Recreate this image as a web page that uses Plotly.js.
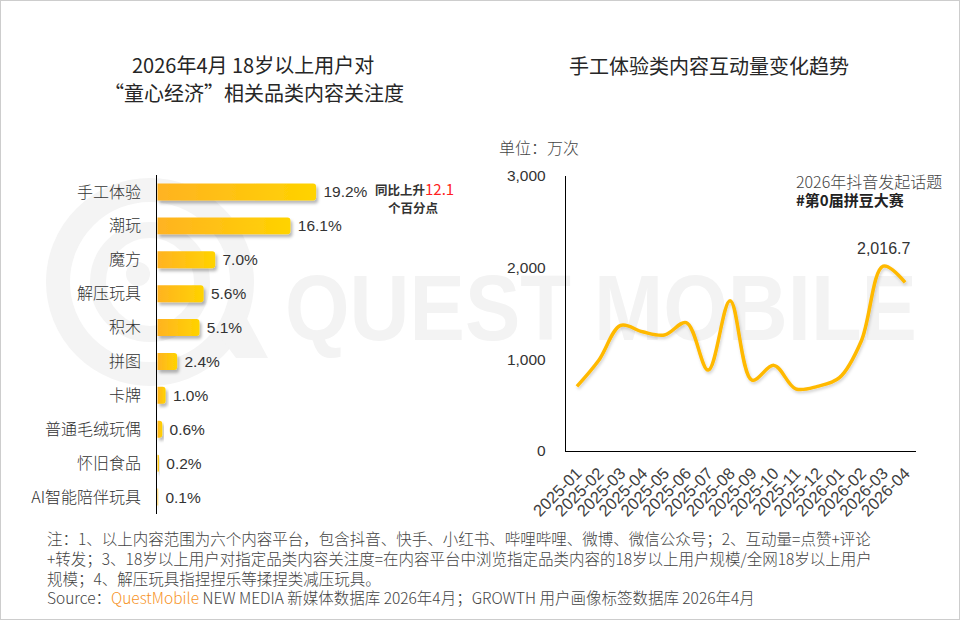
<!DOCTYPE html>
<html>
<head>
<meta charset="utf-8">
<script src="https://cdn.plot.ly/plotly-3.0.1.min.js"></script>
<style>
  html, body { margin: 0; padding: 0; background: #ffffff; }
  #wrap { position: relative; width: 960px; height: 620px; overflow: hidden; background: #ffffff; }
  #wm { position: absolute; left: 0; top: 0; }
  #chart { position: absolute; left: 0; top: 0; width: 960px; height: 620px; }
  #frame { position: absolute; left: 0; top: 0; width: 960px; height: 620px; box-sizing: border-box; border: 1px solid #cdcdcd; pointer-events: none; }
  .barlayer .point path { fill: url(#barGrad) !important; filter: url(#barShadow); }
  .scatterlayer .js-line { filter: url(#lineShadow); }
</style>
</head>
<body>
<svg width="0" height="0" style="position:absolute">
  <defs>
    <linearGradient id="barGrad" x1="0" y1="0" x2="1" y2="0" gradientUnits="objectBoundingBox">
      <stop offset="0" stop-color="#FFB322"/>
      <stop offset="1" stop-color="#FFD300"/>
    </linearGradient>
    <filter id="barShadow" x="-20%" y="-40%" width="150%" height="200%">
      <feDropShadow dx="2" dy="3" stdDeviation="1.8" flood-color="#000" flood-opacity="0.28"/>
    </filter>
    <filter id="lineShadow" x="-10%" y="-10%" width="120%" height="130%">
      <feDropShadow dx="1" dy="2" stdDeviation="1.5" flood-color="#000" flood-opacity="0.18"/>
    </filter>
  </defs>
</svg>
<div id="wrap">
  <svg id="wm" width="960" height="620">
    <g fill="none" stroke="#f4f4f4">
      <circle cx="150" cy="282" r="92" stroke-width="24"/>
      <circle cx="150" cy="282" r="52" stroke-width="16"/>
    </g>
    <polygon points="215,330 245,315 268,358 236,358" fill="#f4f4f4"/>
    <circle cx="138" cy="274" r="12" fill="#f4f4f4"/>
    <text x="285" y="340" font-family="Liberation Sans, Arial, sans-serif" font-weight="bold" font-size="92" fill="#f3f3f3" textLength="632" lengthAdjust="spacingAndGlyphs">QUEST MOBILE</text>
  </svg>
  <div id="chart"></div>
  <div id="frame"></div>
</div>
<script>
// ---- data ----
const categories = ['手工体验', '潮玩', '魔方', '解压玩具', '积木', '拼图', '卡牌', '普通毛绒玩偶', '怀旧食品', 'AI智能陪伴玩具'];
const attention = [19.2, 16.1, 7.0, 5.6, 5.1, 2.4, 1.0, 0.6, 0.2, 0.1];

const months = ['2025-01', '2025-02', '2025-03', '2025-04', '2025-05', '2025-06', '2025-07', '2025-08',
                '2025-09', '2025-10', '2025-11', '2025-12', '2026-01', '2026-02', '2026-03', '2026-04'];
const interactions = [705, 990, 1370, 1300, 1265, 1400, 883, 1640, 772, 934, 678, 705, 800, 1200, 2016.7, 1840];

const yTicks = [0, 1000, 2000, 3000];
const peakLabelIndex = 14;

const footnotes = [
  '注：1、以上内容范围为六个内容平台，包含抖音、快手、小红书、哔哩哔哩、微博、微信公众号；2、互动量=点赞+评论',
  '+转发；3、18岁以上用户对指定品类内容关注度=在内容平台中浏览指定品类内容的18岁以上用户规模/全网18岁以上用户',
  '规模；4、解压玩具指捏捏乐等揉捏类减压玩具。'
];
const sourceText = 'Source：<span style="color:#F7931E">QuestMobile</span> NEW MEDIA 新媒体数据库 2026年4月；GROWTH 用户画像标签数据库 2026年4月';

// ---- helpers (pixel -> paper) ----
const W = 960, H = 620;
const px = x => x / W;
const py = y => 1 - y / H;
const CJK = 'Noto Sans CJK SC, Noto Sans, sans-serif';
const LAT = 'Liberation Sans, Arial, sans-serif';

const traces = [
  {
    type: 'bar',
    orientation: 'h',
    y: categories,
    x: attention,
    xaxis: 'x',
    yaxis: 'y',
    width: 0.5,
    marker: { color: '#FFC414', cornerradius: 3, line: { width: 0 } },
    text: attention.map(v => '\u00A0' + v.toFixed(1) + '%'),
    textposition: 'outside',
    constraintext: 'none',
    cliponaxis: false,
    textfont: { family: LAT, size: 15.5, color: '#333333' },
    hoverinfo: 'skip'
  },
  {
    type: 'scatter',
    mode: 'lines',
    x: months,
    y: interactions,
    xaxis: 'x2',
    yaxis: 'y2',
    line: { color: '#FFB900', width: 3.5, shape: 'spline', smoothing: 1 },
    cliponaxis: false,
    hoverinfo: 'skip'
  }
];

const annotations = [
  // left title
  { text: '2026年4月 18岁以上用户对', x: px(253), y: py(64), xref: 'paper', yref: 'paper', showarrow: false,
    xanchor: 'center', yanchor: 'middle', font: { family: CJK, size: 20, color: '#262626' } },
  { text: '“童心经济”相关品类内容关注度', x: px(254), y: py(92), xref: 'paper', yref: 'paper', showarrow: false,
    xanchor: 'center', yanchor: 'middle', font: { family: CJK, size: 20, color: '#262626' } },
  // right title
  { text: '手工体验类内容互动量变化趋势', x: px(709), y: py(65), xref: 'paper', yref: 'paper', showarrow: false,
    xanchor: 'center', yanchor: 'middle', font: { family: CJK, size: 20, color: '#262626' } },
  // unit
  { text: '单位：万次', x: px(497), y: py(147), xref: 'paper', yref: 'paper', showarrow: false,
    xanchor: 'left', yanchor: 'middle', font: { family: CJK, size: 16, weight: 300, color: '#444444' } },
  // topic note
  { text: '2026年抖音发起话题', x: px(794), y: py(181), xref: 'paper', yref: 'paper', showarrow: false,
    xanchor: 'left', yanchor: 'middle', font: { family: CJK, size: 16, weight: 300, color: '#444444' } },
  { text: '<b>#第0届拼豆大赛</b>', x: px(794), y: py(200), xref: 'paper', yref: 'paper', showarrow: false,
    xanchor: 'left', yanchor: 'middle', font: { family: CJK, size: 15, color: '#222222' } },
  // peak label
  { text: interactions[peakLabelIndex].toLocaleString('en-US', { minimumFractionDigits: 1 }),
    x: months[peakLabelIndex], y: interactions[peakLabelIndex], xref: 'x2', yref: 'y2', showarrow: false,
    xanchor: 'center', yanchor: 'bottom', yshift: 7, font: { family: LAT, size: 16, color: '#333333' } },
  // bar note
  { text: '<b>同比上升</b><span style="color:#FF1F1F;font-size:15px">12.1</span>', x: px(414), y: py(189), xref: 'paper', yref: 'paper',
    showarrow: false, xanchor: 'center', yanchor: 'middle', font: { family: CJK, size: 12.5, color: '#333333' } },
  { text: '<b>个百分点</b>', x: px(413), y: py(207), xref: 'paper', yref: 'paper',
    showarrow: false, xanchor: 'center', yanchor: 'middle', font: { family: CJK, size: 12.5, color: '#333333' } }
];

const footY = [538, 558, 578];
footnotes.forEach((t, i) => {
  annotations.push({ text: t, x: px(45), y: py(footY[i]), xref: 'paper', yref: 'paper', showarrow: false,
    xanchor: 'left', yanchor: 'middle', font: { family: CJK, size: 15.5, weight: 300, color: '#444444' } });
});
annotations.push({ text: sourceText, x: px(45), y: py(597), xref: 'paper', yref: 'paper', showarrow: false,
  xanchor: 'left', yanchor: 'middle', font: { family: CJK, size: 15.5, weight: 300, color: '#444444' } });

const layout = {
  width: W, height: H, autosize: false,
  margin: { l: 0, r: 0, t: 0, b: 0, pad: 0 },
  paper_bgcolor: 'rgba(0,0,0,0)',
  plot_bgcolor: 'rgba(0,0,0,0)',
  showlegend: false,
  bargap: 0.5,
  xaxis: { domain: [px(157.3), px(405.4)], range: [0, 30], visible: false, fixedrange: true },
  yaxis: {
    domain: [py(514), py(175)], type: 'category', autorange: 'reversed',
    showline: true, linecolor: '#000000', linewidth: 1, ticks: '', showgrid: false, zeroline: false,
    ticklabelstandoff: 12,
    tickfont: { family: CJK, size: 16, weight: 300, color: '#333333' }
  },
  xaxis2: {
    domain: [px(566), px(916)], anchor: 'y2', type: 'category', range: [-0.5, months.length - 0.5],
    showline: true, linecolor: '#000000', linewidth: 1.2, ticks: '', showgrid: false, zeroline: false,
    tickangle: -45, ticklabelstandoff: 5,
    tickfont: { family: LAT, size: 16.5, color: '#404040' }
  },
  yaxis2: {
    domain: [py(451), py(176)], anchor: 'x2', range: [0, 3000],
    tickvals: yTicks, tickformat: ',',
    showline: true, linecolor: '#000000', linewidth: 1.2, ticks: '', showgrid: false, zeroline: false,
    ticklabelstandoff: 16,
    tickfont: { family: LAT, size: 15.5, color: '#333333' }
  },
  annotations: annotations
};

Plotly.newPlot('chart', traces, layout, { staticPlot: true, displayModeBar: false });
</script>
</body>
</html>
